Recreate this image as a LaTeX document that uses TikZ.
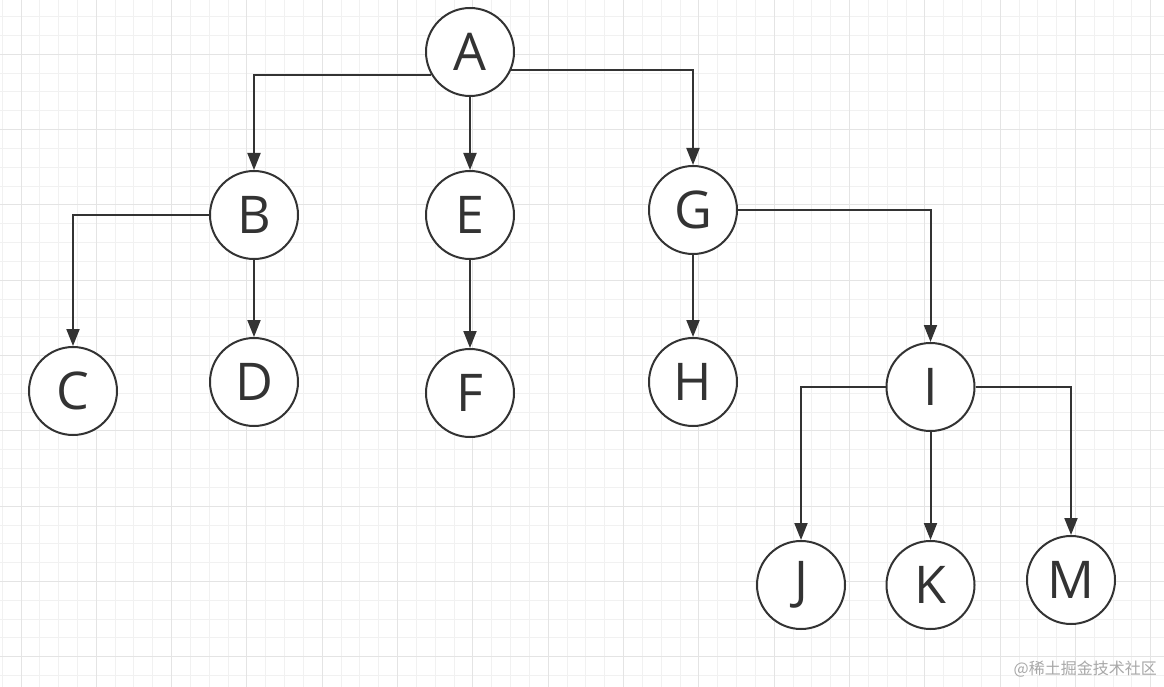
\documentclass[tikz,border=0pt]{standalone}
\usepackage{fontspec}
\setmainfont{Open Sans}
\newfontfamily\cjkfont{Noto Sans CJK SC}
\usetikzlibrary{arrows.meta}
\definecolor{inkgray}{HTML}{333333}
\definecolor{minorgrid}{HTML}{F1F1F1}
\definecolor{majorgrid}{HTML}{E4E4E4}
\definecolor{markgray}{HTML}{A8A8A8}
\tikzset{
  vertex/.style={circle,draw=inkgray,line width=2pt,fill=white,minimum size=88pt,inner sep=0pt,
    text=inkgray,font=\fontsize{52}{52}\selectfont},
  edge/.style={draw=inkgray,line width=2pt,-{Triangle[length=17pt,width=13pt]}}
}
\begin{document}
\begin{tikzpicture}[x=1pt,y=-1pt]
				\useasboundingbox (0,0) rectangle (1164,687);
				\fill[white] (0,0) rectangle (1164,687);
				% background grid
				\foreach \i in {0,...,61}
				\draw[minorgrid,line width=1pt] ({2.17+\i*18.83},0) -- ({2.17+\i*18.83},687);
				\foreach \j in {0,...,35}
				\draw[minorgrid,line width=1pt] (0,{16.6+\j*18.83}) -- (1164,{16.6+\j*18.83});
				\foreach \i in {0,...,15}
				\draw[majorgrid,line width=1pt] ({21+\i*75.33},0) -- ({21+\i*75.33},687);
				\foreach \j in {0,...,8}
				\draw[majorgrid,line width=1pt] (0,{54.3+\j*75.33}) -- (1164,{54.3+\j*75.33});
				% tree
				\node[vertex] (A) at (470,52) {A};
				\node[vertex] (B) at (254,215) {B};
				\node[vertex] (E) at (470,215) {E};
				\node[vertex] (G) at (693,210) {G};
				\node[vertex] (C) at (73,391) {C};
				\node[vertex] (D) at (254,382) {D};
				\node[vertex] (F) at (470,393) {F};
				\node[vertex] (H) at (693,382) {H};
				\node[vertex] (I) at (930.5,387) {I};
				\node[vertex] (J) at (801,585) {J};
				\node[vertex] (K) at (930.5,585) {K};
				\node[vertex] (M) at (1071,580) {M};
				\draw[edge] (A.211) -| (B.north);
				\draw[edge] (A.south) -- (E.north);
				\draw[edge] (A.337) -| (G.north);
				\draw[edge] (B.west) -| (C.north);
				\draw[edge] (B.south) -- (D.north);
				\draw[edge] (E.south) -- (F.north);
				\draw[edge] (G.south) -- (H.north);
				\draw[edge] (G.east) -| (I.north);
				\draw[edge] (I.west) -| (J.north);
				\draw[edge] (I.south) -- (K.north);
				\draw[edge] (I.east) -| (M.north);
				\node[anchor=east,text=markgray,font=\cjkfont\fontsize{16}{16}\selectfont,inner sep=0pt] (mark) at (1157,669) {@稀土掘金技术社区};
			\end{tikzpicture}
\end{document}
